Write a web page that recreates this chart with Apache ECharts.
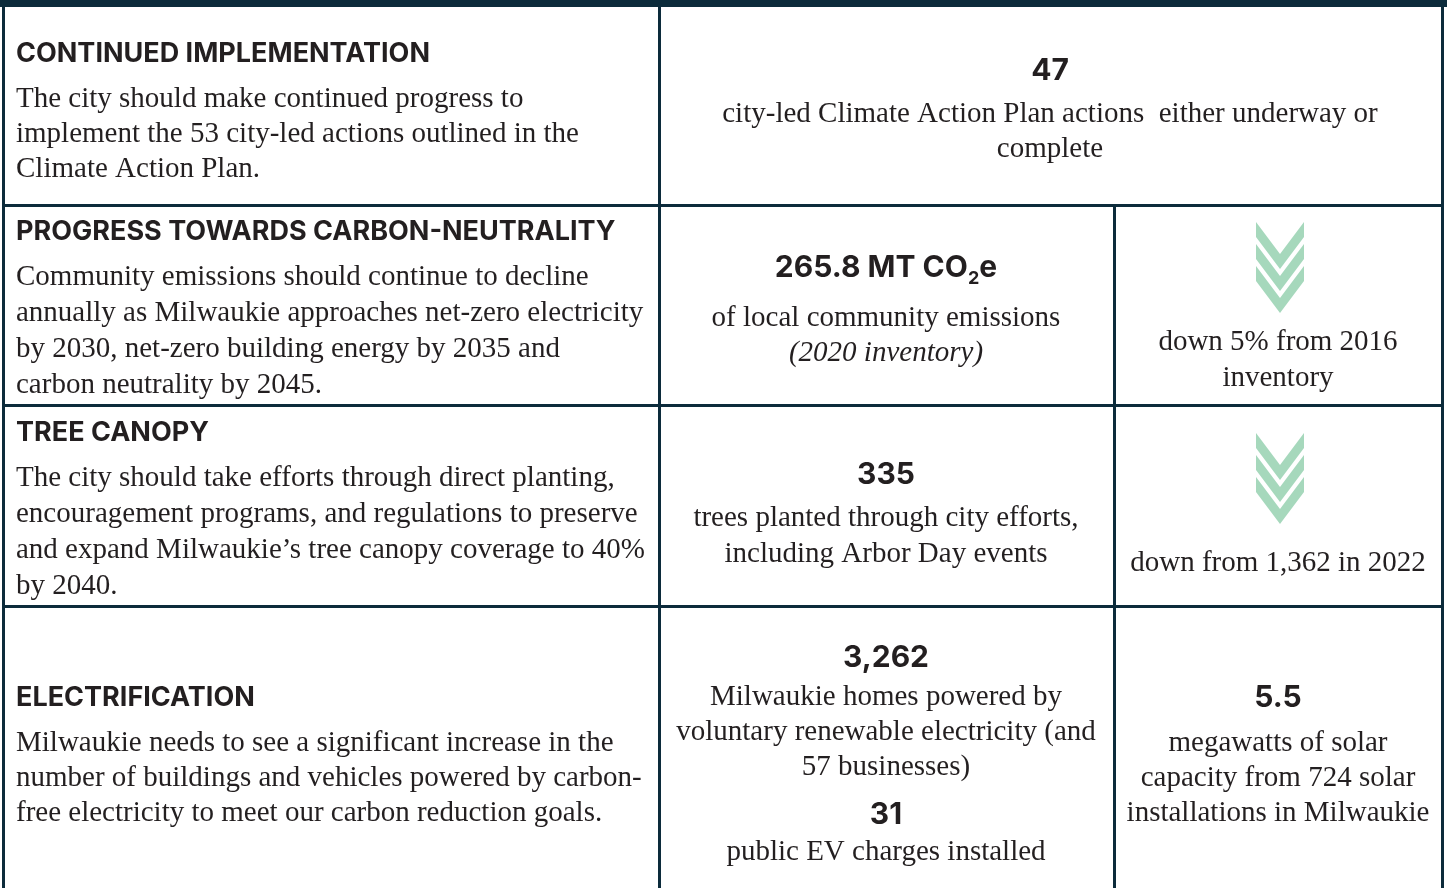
<!DOCTYPE html>
<html>
<head>
<meta charset="utf-8">
<script src="https://cdn.jsdelivr.net/npm/echarts@6/dist/echarts.min.js"></script>
<style>
  html, body { margin: 0; padding: 0; background: #fff; }
  #main { width: 1447px; height: 888px; }
</style>
</head>
<body>
<div id="main"></div>
<script>
  // goals (left column)
  const goalTitles = ['CONTINUED IMPLEMENTATION', 'PROGRESS TOWARDS CARBON-NEUTRALITY', 'TREE CANOPY', 'ELECTRIFICATION']
  const goalLines = [
    ['The city should make continued progress to', 'implement the 53 city-led actions outlined in the', 'Climate Action Plan.'],
    ['Community emissions should continue to decline', 'annually as Milwaukie approaches net-zero electricity', 'by 2030, net-zero building energy by 2035 and', 'carbon neutrality by 2045.'],
    ['The city should take efforts through direct planting,', 'encouragement programs, and regulations to preserve', 'and expand Milwaukie\u2019s tree canopy coverage to 40%', 'by 2040.'],
    ['Milwaukie needs to see a significant increase in the', 'number of buildings and vehicles powered by carbon-', 'free electricity to meet our carbon reduction goals.']
  ]

  // metrics (middle / right cells)
  const metricValues = ['47', '265.8 MT CO2e', '335', '3,262', '31', '5.5']
  const metricNotes = [
    ['city-led Climate Action Plan actions  either underway or', 'complete'],
    ['of local community emissions'],
    ['trees planted through city efforts,', 'including Arbor Day events'],
    ['Milwaukie homes powered by', 'voluntary renewable electricity (and', '57 businesses)'],
    ['public EV charges installed'],
    ['megawatts of solar', 'capacity from 724 solar', 'installations in Milwaukie']
  ]
  const metricItalic = ['', '(2020 inventory)', '', '', '', '']
  const trendNotes = [['down 5% from 2016', 'inventory'], ['down from 1,362 in 2022']]

  // layout
  const W = 1447, H = 888
  const LINE = '#0c2b3b'
  const INK = '#231f20'
  const MINT = '#a6d8bc'
  const colX = [4, 659, 1114, 1442]
  const rowY = [7, 205, 405, 606, 888]
  const titleY = [54, 232, 433, 698]
  const goalLead = [35, 36, 36, 35]
  const SANS = 'Inter'
  const SERIF = '"Liberation Serif"'
  const headFont = '700 27px ' + SANS
  const numFont = '700 30px ' + SANS
  const bodyFont = '29px ' + SERIF
  const italFont = 'italic 29px ' + SERIF

  // [center x, value y, first note y, note spacing]
  const metricPos = [
    [1050, 71, 114, 35],
    [886, 268, 318, 35],
    [886, 475, 518, 36],
    [886, 658, 697, 35],
    [886, 815, 852, 35],
    [1278, 698, 743, 35]
  ]

  function txt(x, y, text, font, align, fill) {
    return {
      type: 'text', x: x, y: y, silent: true,
      style: {
        text: text, font: font, fill: fill || INK,
        align: align || 'center', verticalAlign: 'middle',
        textAlign: align || 'center', textVerticalAlign: 'middle'
      }
    }
  }

  function bar(x, y, w, h) {
    return { type: 'rect', silent: true, shape: { x: x, y: y, width: w, height: h }, style: { fill: LINE } }
  }

  // three stacked chevrons pointing down
  function chevrons(cx, top) {
    let out = []
    let hw = 24, dip = 32, thick = 15, step = 22
    for (let i = 0; i < 3; i++) {
      let y = top + i * step
      out.push({
        type: 'polygon', silent: true,
        shape: { points: [[cx - hw, y], [cx, y + dip], [cx + hw, y], [cx + hw, y + thick], [cx, y + dip + thick], [cx - hw, y + thick]] },
        style: { fill: MINT }
      })
    }
    return out
  }

  let els = []

  // grid
  els.push(bar(0, 0, W, rowY[0]))
  els.push(bar(colX[0] - 2, 0, 3, H))
  els.push(bar(colX[3] - 1, 0, 3, H))
  els.push(bar(colX[1] - 1, 0, 3, H))
  els.push(bar(colX[2] - 1, rowY[1], 3, H - rowY[1]))
  for (let r = 1; r < 4; r++) els.push(bar(colX[0], rowY[r] - 1, colX[3] - colX[0], 3))

  // left column
  goalTitles.forEach((t, i) => {
    els.push(txt(16, titleY[i], t, headFont, 'left'))
    goalLines[i].forEach((l, j) => {
      els.push(txt(16, titleY[i] + 45 + j * goalLead[i], l, bodyFont, 'left'))
    })
  })

  // metrics
  metricValues.forEach((v, i) => {
    let p = metricPos[i]
    if (v.indexOf('CO2') >= 0) {
      let parts = v.split('CO2')
      els.push({
        type: 'text', x: p[0], y: p[1], silent: true,
        style: {
          text: '{b|' + parts[0] + 'CO}{s|2}{b|' + parts[1] + '}',
          align: 'center', verticalAlign: 'middle', textAlign: 'center', textVerticalAlign: 'middle',
          rich: {
            b: { fontSize: 30, fontWeight: 700, fontFamily: SANS, fill: INK, lineHeight: 40 },
            s: { fontSize: 18, fontWeight: 700, fontFamily: SANS, fill: INK, lineHeight: 16, verticalAlign: 'bottom' }
          }
        }
      })
    } else {
      els.push(txt(p[0], p[1], v, numFont))
    }
    metricNotes[i].forEach((l, j) => els.push(txt(p[0], p[2] + j * p[3], l, bodyFont)))
    if (metricItalic[i]) els.push(txt(p[0], p[2] + metricNotes[i].length * p[3], metricItalic[i], italFont))
  })

  // trends with arrows
  els = els.concat(chevrons(1280, 222), chevrons(1280, 433))
  trendNotes[0].forEach((l, j) => els.push(txt(1278, 342 + j * 36, l, bodyFont)))
  trendNotes[1].forEach((l, j) => els.push(txt(1278, 563 + j * 36, l, bodyFont)))

  let chart = echarts.init(document.getElementById('main'), null, { renderer: 'canvas' })
  chart.setOption({
    animation: false,
    graphic: { elements: els }
  })
</script>
</body>
</html>
